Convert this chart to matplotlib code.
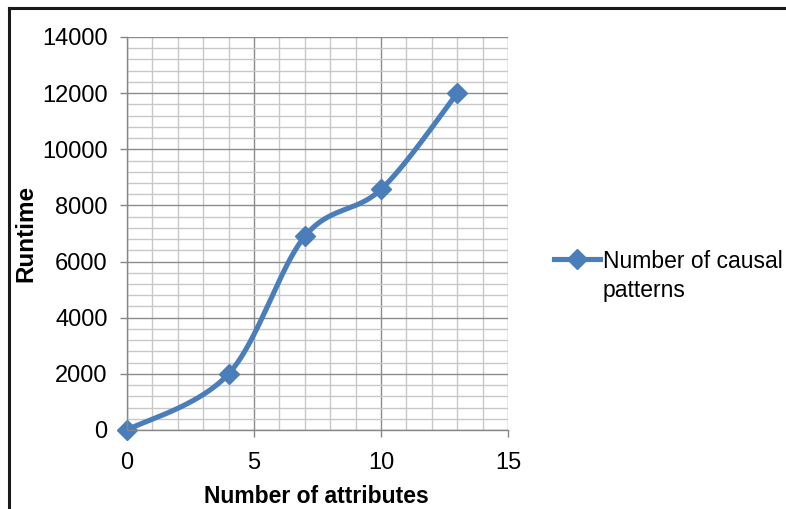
import numpy as np
import matplotlib
matplotlib.use("Agg")
import matplotlib.pyplot as plt
from matplotlib.lines import Line2D

# Runtime vs. number of attributes
attributes = [0, 4, 7, 10, 13]
runtime = [0, 2000, 6900, 8570, 12000]
series_name = ["Number of causal", "patterns"]
x_ticks = [0, 5, 10, 15]
y_ticks = [0, 2000, 4000, 6000, 8000, 10000, 12000, 14000]

BLUE = "#4A7EBB"
plt.rcParams["font.family"] = ["Liberation Sans", "DejaVu Sans"]


def smooth_curve(xs, ys, n=60):
    """Excel-style smoothed line: cubic Bezier segments with
    Catmull-Rom control points (tension 1/6)."""
    p = np.column_stack([xs, ys]).astype(float)
    pts = [p[0]] + list(p) + [p[-1]]
    out = []
    t = np.linspace(0, 1, n)[:, None]
    for i in range(1, len(pts) - 2):
        p0, p1, p2, p3 = pts[i - 1], pts[i], pts[i + 1], pts[i + 2]
        c1 = p1 + (p2 - p0) / 6.0
        c2 = p2 - (p3 - p1) / 6.0
        seg = ((1 - t) ** 3) * p1 + 3 * ((1 - t) ** 2) * t * c1 \
            + 3 * (1 - t) * t ** 2 * c2 + t ** 3 * p2
        out.append(seg if i == 1 else seg[1:])
    curve = np.vstack(out)
    return curve[:, 0], curve[:, 1]


fig = plt.figure(figsize=(7.86, 5.09), dpi=100)
ax = fig.add_axes([127 / 786, 1 - 430 / 509, (508 - 127) / 786, (430 - 37) / 509])

ax.set_xlim(0, 15)
ax.set_ylim(0, 14000)
ax.set_xticks(x_ticks)
ax.set_yticks(y_ticks)
ax.set_xticks(np.arange(0, 16, 1), minor=True)
ax.set_yticks(np.arange(0, 14001, 400), minor=True)

ax.grid(which="minor", color="#C8C8C8", linewidth=1.0)
ax.grid(which="major", color="#8C8C8C", linewidth=1.0)
ax.set_axisbelow(True)

for side in ("top", "right"):
    ax.spines[side].set_visible(False)
for side in ("left", "bottom"):
    ax.spines[side].set_color("#868686")
    ax.spines[side].set_linewidth(1.0)

ax.tick_params(which="major", direction="out", length=5, width=1.0,
               color="#868686", labelsize=17)
ax.tick_params(axis="y", which="major", pad=9)
ax.tick_params(axis="x", which="major", pad=11)
ax.tick_params(which="minor", length=0)

sx, sy = smooth_curve(attributes, runtime)
ax.plot(sx, sy, color=BLUE, linewidth=3.7, solid_capstyle="round", clip_on=False)
ax.plot(attributes, runtime, linestyle="none", marker="D", markersize=10,
        color=BLUE, clip_on=False)

ax.set_xlabel("Number of attributes", fontsize=16.5, fontweight="bold")
ax.set_ylabel("Runtime", fontsize=17.5, fontweight="bold")
ax.xaxis.set_label_coords(0.497, -0.168)
ax.yaxis.set_label_coords(-0.265, 0.5)
ax.xaxis.label.set_va("center")
ax.yaxis.label.set_va("center")

# Legend entry: handle aligned with the first line of the series name
handle = Line2D([], [], color=BLUE, linewidth=3.7, marker="D", markersize=10)
leg = fig.legend([handle], [series_name[0]], loc="center left",
                 bbox_to_anchor=(554 / 786, 1 - 261 / 509), frameon=False,
                 fontsize=16.5, handlelength=2.0, handletextpad=0.12,
                 borderaxespad=0, borderpad=0)
fig.canvas.draw()
first = leg.get_texts()[0]
bb = first.get_window_extent()
fig.text(bb.x0 / fig.bbox.width, (bb.y0 + bb.height / 2 - 30) / fig.bbox.height,
         series_name[1], fontsize=16.5, ha="left", va="center")

# Outer frame (top and left edges)
fig.add_artist(Line2D([9 / 786, 1], [1 - 8 / 509, 1 - 8 / 509],
                      transform=fig.transFigure, color="#1a1a1a", linewidth=2.2))
fig.add_artist(Line2D([9 / 786, 9 / 786], [0, 1 - 8 / 509],
                      transform=fig.transFigure, color="#1a1a1a", linewidth=2.2))

fig.savefig("out.png", dpi=100)
